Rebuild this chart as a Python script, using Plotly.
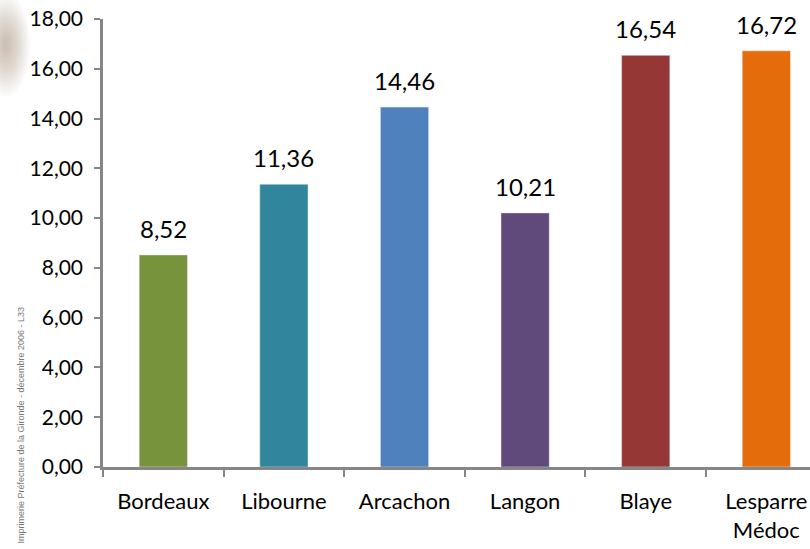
import plotly.graph_objects as go

categories = ["Bordeaux", "Libourne", "Arcachon", "Langon", "Blaye", "Lesparre<br>Médoc"]
values = [8.52, 11.36, 14.46, 10.21, 16.54, 16.72]
colors = ["#77933C", "#31859C", "#4F81BD", "#604A7B", "#953735", "#E46C0A"]
y_ticks = [0, 2, 4, 6, 8, 10, 12, 14, 16, 18]
watermark = "Imprimerie Préfecture de la Gironde - décembre 2006 - L33"

font_family = "Lato, Open Sans, sans-serif"

ML, MT, MB, MR = 103, 19, 82, 0
W, H = 810, 549
PW, PH = W - ML - MR, H - MT - MB


def px_to_paper(px, py):
    # page pixel -> paper coords
    return (px - ML) / PW, (H - MB - py) / PH


fig = go.Figure(go.Bar(
    x=categories, y=values, marker_color=colors, width=0.4,
    hoverinfo="x+y",
))

for c, v in zip(categories, values):
    fig.add_annotation(
        x=c, y=v, text=f"{v:.2f}".replace(".", ","), showarrow=False,
        yanchor="bottom", yshift=10,
        font=dict(size=24, color="#000000", family=font_family),
    )

fig.update_layout(
    width=W, height=H,
    margin=dict(l=ML, r=MR, t=MT, b=MB, autoexpand=False),
    paper_bgcolor="white", plot_bgcolor="white",
    separators=", ",
    showlegend=False,
    font=dict(family=font_family, size=22, color="#000000"),
    xaxis=dict(
        range=[-0.5, 5.362], type="category", automargin=False,
        showline=True, linecolor="#868686", linewidth=2.5,
        ticks="outside", tickson="boundaries", ticklen=7, tickcolor="#868686", tickwidth=2,
        tickfont=dict(size=22, family=font_family),
        ticklabelstandoff=13, ticklabeloverflow="allow",
        showgrid=False,
    ),
    yaxis=dict(
        range=[0, 18], tickvals=y_ticks, tickformat=".2f", automargin=False,
        showline=True, linecolor="#868686", linewidth=2.5,
        ticks="outside", ticklen=6, tickcolor="#868686", tickwidth=2,
        tickfont=dict(size=21, family=font_family),
        ticklabelstandoff=7, ticklabeloverflow="allow",
        showgrid=False, zeroline=False,
    ),
)

# soft blurred decorative blob in top-left corner
n = 14
for i in range(n):
    r = 30 - i * 2
    x0, y0 = px_to_paper(6 - r * 0.8, 45 - r * 1.7)
    x1, y1 = px_to_paper(6 + r * 0.8, 45 + r * 1.7)
    fig.add_shape(
        type="circle", xref="paper", yref="paper",
        x0=x0, x1=x1, y0=y1, y1=y0,
        fillcolor="#8a6a60", opacity=0.035, line=dict(width=0), layer="below",
    )

wx, wy = px_to_paper(20, 546)
fig.add_annotation(
    text=watermark, xref="paper", yref="paper", x=wx, y=wy,
    xanchor="center", yanchor="bottom", textangle=-90, showarrow=False,
    font=dict(size=9, color="#777777", family="Liberation Sans Narrow, Arial Narrow, sans-serif"),
)

fig.write_html(
    "out.html",
    config={"displayModeBar": False},
    post_script="document.body.style.margin='0px';",
)
